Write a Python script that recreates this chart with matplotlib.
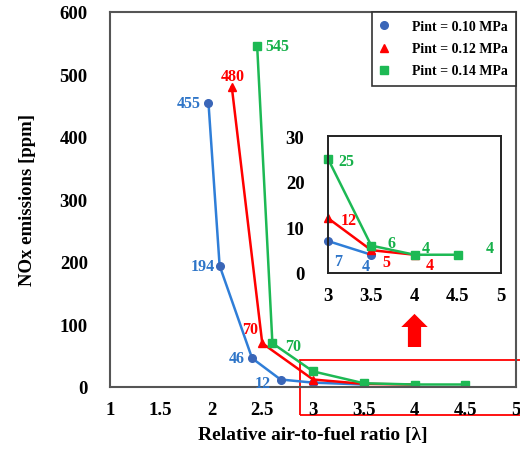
import matplotlib
matplotlib.use("Agg")
import matplotlib.pyplot as plt
from matplotlib.patches import Rectangle, FancyArrow

plt.rcParams['font.family'] = ['Liberation Serif', 'DejaVu Serif']
plt.rcParams['font.weight'] = 'bold'

# Data
lam_010 = [1.97, 2.08, 2.40, 2.68, 3.0, 3.5]
nox_010 = [455, 194, 46, 12, 7, 4]
lam_012 = [2.20, 2.50, 3.0, 3.5, 4.0]
nox_012 = [480, 70, 12, 5, 4]
lam_014 = [2.45, 2.60, 3.0, 3.5, 4.0, 4.5]
nox_014 = [545, 70, 25, 6, 4, 4]
series_labels = ['Pint = 0.10 MPa', 'Pint = 0.12 MPa', 'Pint = 0.14 MPa']
x_ticks = [1, 1.5, 2, 2.5, 3, 3.5, 4, 4.5, 5]
y_ticks = [0, 100, 200, 300, 400, 500, 600]
inset_x_ticks = [3, 3.5, 4, 4.5, 5]
inset_y_ticks = [0, 10, 20, 30]

BLUE_L = '#2F7ED8'
BLUE_M = '#3A66B8'
BLUE_T = '#2E75C8'
RED = '#FF0000'
GREEN = '#1DB954'
GREEN_T = '#16B04A'

W, H = 520, 452
fig = plt.figure(figsize=(W/100, H/100), dpi=100)

def px_axes(l, t, r, b):
    return fig.add_axes([l/W, 1 - b/H, (r-l)/W, (b-t)/H])

TICK_FS = 13.5

ax = px_axes(110, 13, 516, 388)
ax.plot(lam_010, nox_010, color=BLUE_L, lw=1.8, marker='o', ms=5.5, mfc=BLUE_M, mec=BLUE_M, label=series_labels[0])
ax.plot(lam_012, nox_012, color=RED, lw=1.8, marker='^', ms=5.5, mfc=RED, mec=RED, label=series_labels[1])
ax.plot(lam_014, nox_014, color=GREEN, lw=1.8, marker='s', ms=5.5, mfc=GREEN, mec=GREEN, label=series_labels[2])
ax.set_xlim(1, 5)
ax.set_ylim(0, 600)
ax.set_xticks(x_ticks)
ax.set_xticklabels([f'{v:g}' for v in x_ticks])
ax.set_yticks(y_ticks)
ax.tick_params(axis='both', length=0, labelsize=TICK_FS)
ax.tick_params(axis='y', pad=16)
ax.tick_params(axis='x', pad=10)
for s in ax.spines.values():
    s.set_color('#555555')
    s.set_linewidth(1.5)
ax.set_xlabel('Relative air-to-fuel ratio [λ]', fontsize=14, fontweight='bold', labelpad=6)
ax.set_ylabel('NOx emissions [ppm]', fontsize=13.5, fontweight='bold', labelpad=17)

fs = 11.5
ax.text(lam_010[0] - 0.08, nox_010[0], '455', color=BLUE_T, fontsize=fs, ha='right', va='center')
ax.text(lam_010[1] - 0.05, nox_010[1], '194', color=BLUE_T, fontsize=fs, ha='right', va='center')
ax.text(lam_010[2] - 0.07, nox_010[2], '46', color=BLUE_T, fontsize=fs, ha='right', va='center')
ax.text(lam_010[3] - 0.18, nox_010[3] - 6, '12', color=BLUE_T, fontsize=fs, ha='center', va='center')
ax.text(lam_012[0] + 0.01, nox_012[0] + 17, '480', color=RED, fontsize=fs, ha='center', va='center')
ax.text(lam_012[1] - 0.12, nox_012[1] + 23, '70', color=RED, fontsize=fs, ha='center', va='center')
ax.text(lam_014[0] + 0.08, nox_014[0], '545', color=GREEN_T, fontsize=fs, ha='left', va='center')
ax.text(lam_014[1] + 0.20, nox_014[1] - 4, '70', color=GREEN_T, fontsize=fs, ha='center', va='center')

leg = ax.legend(loc='upper right', bbox_to_anchor=(1.0, 1.0), borderaxespad=0, fancybox=False,
                edgecolor='#333333', framealpha=1, prop={'size': 10, 'weight': 'bold'},
                handlelength=0.6, handletextpad=1.7, labelspacing=0.65, borderpad=0.6)
for h in leg.legend_handles:
    h.set_linestyle('none')
leg.get_frame().set_linewidth(1.2)

# red zoom rectangle
rect = Rectangle((2.87, -45), 2.3, 88, fill=False, edgecolor=RED, lw=1.3, clip_on=False)
ax.add_patch(rect)
# red arrow
ax.add_patch(FancyArrow(4.0, 64, 0, 53, width=0.13, head_width=0.26, head_length=21,
                        length_includes_head=True, color=RED, lw=0))

# inset
ins = px_axes(328, 137, 501, 274)
ins.plot(lam_010[4:], nox_010[4:], color=BLUE_L, lw=1.8, marker='o', ms=5.5, mfc=BLUE_M, mec=BLUE_M, clip_on=False)
ins.plot(lam_012[2:], nox_012[2:], color=RED, lw=1.8, marker='^', ms=5.5, mfc=RED, mec=RED, clip_on=False)
ins.plot(lam_014[2:], nox_014[2:], color=GREEN, lw=1.8, marker='s', ms=5.5, mfc=GREEN, mec=GREEN, clip_on=False)
ins.set_xlim(3, 5)
ins.set_ylim(0, 30)
ins.set_xticks(inset_x_ticks)
ins.set_xticklabels([f'{v:g}' for v in inset_x_ticks])
ins.set_yticks(inset_y_ticks)
ins.tick_params(axis='both', length=0, labelsize=TICK_FS)
ins.tick_params(axis='y', pad=17)
ins.tick_params(axis='x', pad=10)
for s in ins.spines.values():
    s.set_color('#222222')
    s.set_linewidth(1.4)
fi = 11.5
ins.text(3.12, 2.6, '7', color=BLUE_T, fontsize=fi, ha='center', va='center')
ins.text(3.44, 1.6, '4', color=BLUE_T, fontsize=fi, ha='center', va='center')
ins.text(3.24, 11.5, '12', color=RED, fontsize=fi, ha='center', va='center')
ins.text(3.68, 2.5, '5', color=RED, fontsize=fi, ha='center', va='center')
ins.text(4.18, 1.7, '4', color=RED, fontsize=fi, ha='center', va='center')
ins.text(3.21, 24.5, '25', color=GREEN_T, fontsize=fi, ha='center', va='center')
ins.text(3.73, 6.5, '6', color=GREEN_T, fontsize=fi, ha='center', va='center')
ins.text(4.13, 5.4, '4', color=GREEN_T, fontsize=fi, ha='center', va='center')
ins.text(4.87, 5.4, '4', color=GREEN_T, fontsize=fi, ha='center', va='center')

fig.savefig('out.png', dpi=100)
